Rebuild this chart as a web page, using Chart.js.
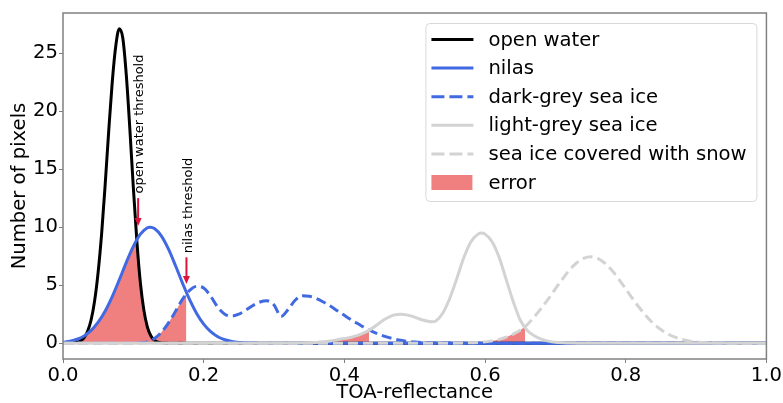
<!DOCTYPE html>
<html>
<head>
<meta charset="utf-8">
<script src="https://cdn.jsdelivr.net/npm/chart.js@4.4.1/dist/chart.umd.min.js"></script>
<style>
  html, body { margin: 0; padding: 0; background: #fff; }
  #wrap { width: 783px; height: 403px; }
</style>
</head>
<body>
<div id="wrap"><canvas id="chart" width="783" height="403"></canvas></div>
<script>
// Data
const xTicks = [0, 0.2, 0.4, 0.6, 0.8, 1.0];
const yTicks = [0, 5, 10, 15, 20, 25];

// open water
const owX = [0, 0.02, 0.025, 0.03, 0.035, 0.04, 0.045, 0.05, 0.055, 0.06, 0.065, 0.07, 0.075, 0.08, 0.085, 0.09, 0.095, 0.1, 0.105, 0.11, 0.115, 0.12, 0.125, 0.13, 0.135, 0.14, 0.15, 1.0];
const owY = [0, 0.09, 0.21, 0.49, 1.03, 2.02, 3.67, 6.15, 9.5, 13.7, 18.3, 22.5, 25.6, 27.1, 26.3, 23.1, 18.5, 13.4, 8.8, 5.2, 2.83, 1.39, 0.62, 0.25, 0.09, 0.03, 0, 0];
// nilas
const nlX = [0, 0.01, 0.02, 0.03, 0.04, 0.05, 0.06, 0.07, 0.08, 0.09, 0.1, 0.11, 0.12, 0.124, 0.13, 0.14, 0.15, 0.16, 0.17, 0.18, 0.19, 0.2, 0.21, 0.22, 0.23, 0.24, 0.25, 0.26, 0.28, 1.0];
const nlY = [0.08, 0.17, 0.34, 0.63, 1.10, 1.81, 2.78, 4.02, 5.46, 6.97, 8.35, 9.40, 9.95, 10.0, 9.89, 9.23, 8.10, 6.67, 5.16, 3.75, 2.56, 1.64, 0.99, 0.56, 0.30, 0.15, 0.07, 0.03, 0, 0];
// dark-grey sea ice
const dgX = [0, 0.1, 0.11, 0.12, 0.13, 0.14, 0.15, 0.16, 0.17, 0.18, 0.19, 0.2, 0.21, 0.22, 0.23, 0.24, 0.25, 0.26, 0.27, 0.28, 0.29, 0.3, 0.31, 0.32, 0.33, 0.34, 0.35, 0.36, 0.37, 0.38, 0.39, 0.4, 0.41, 0.42, 0.43, 0.44, 0.45, 0.46, 0.47, 0.48, 0.49, 0.5, 0.52, 0.55, 0.6, 1.0];
const dgY = [0, 0, 0.03, 0.12, 0.4, 0.95, 1.75, 2.75, 3.8, 4.55, 4.9, 4.75, 4.05, 3.1, 2.5, 2.35, 2.5, 2.85, 3.25, 3.55, 3.65, 3.3, 2.3, 2.9, 3.7, 4.1, 4.05, 3.85, 3.55, 3.2, 2.8, 2.4, 2.0, 1.65, 1.3, 1.0, 0.75, 0.55, 0.38, 0.25, 0.16, 0.1, 0.04, 0.01, 0, 0];
// light-grey sea ice
const lgX = [0, 0.3, 0.34, 0.36, 0.37, 0.38, 0.39, 0.4, 0.41, 0.42, 0.43, 0.44, 0.45, 0.46, 0.47, 0.48, 0.49, 0.5, 0.51, 0.525, 0.53, 0.54, 0.55, 0.56, 0.57, 0.58, 0.59, 0.595, 0.6, 0.61, 0.62, 0.63, 0.64, 0.65, 0.66, 0.67, 0.68, 0.69, 0.7, 0.72, 0.75, 1.0];
const lgY = [0, 0, 0.02, 0.07, 0.12, 0.2, 0.3, 0.4, 0.52, 0.7, 0.95, 1.3, 1.75, 2.15, 2.42, 2.5, 2.42, 2.25, 2.02, 1.85, 1.92, 2.6, 3.9, 5.6, 7.4, 8.75, 9.4, 9.5, 9.4, 8.75, 7.4, 5.5, 3.6, 2.0, 1.1, 0.65, 0.35, 0.18, 0.08, 0.02, 0, 0];
// sea ice covered with snow
const snX = [0, 0.55, 0.57, 0.59, 0.6, 0.61, 0.62, 0.63, 0.64, 0.65, 0.66, 0.67, 0.68, 0.69, 0.7, 0.71, 0.72, 0.73, 0.74, 0.75, 0.76, 0.77, 0.78, 0.79, 0.8, 0.81, 0.82, 0.83, 0.84, 0.85, 0.86, 0.87, 0.88, 0.89, 0.9, 0.92, 0.95, 1.0];
const snY = [0, 0.005, 0.02, 0.066, 0.116, 0.2, 0.33, 0.52, 0.79, 1.12, 1.6, 2.28, 3.01, 3.82, 4.69, 5.53, 6.30, 6.91, 7.30, 7.44, 7.30, 6.91, 6.30, 5.53, 4.69, 3.82, 3.01, 2.28, 1.66, 1.17, 0.79, 0.52, 0.33, 0.2, 0.116, 0.036, 0.005, 0];

// error areas
const e1X = [0.02, 0.025, 0.03, 0.035, 0.04, 0.045, 0.05, 0.055, 0.06, 0.065, 0.07, 0.075, 0.08, 0.085, 0.09, 0.095, 0.1, 0.1048, 0.11, 0.115, 0.12, 0.125, 0.13, 0.135, 0.14, 0.15];
const e1Y = [0, 0.21, 0.49, 0.85, 1.10, 1.43, 1.81, 2.27, 2.78, 3.38, 4.02, 4.73, 5.46, 6.21, 6.97, 7.68, 8.35, 8.85, 5.2, 2.83, 1.39, 0.62, 0.25, 0.09, 0.03, 0];
const e2X = [0.1, 0.11, 0.12, 0.13, 0.14, 0.15, 0.16, 0.17, 0.1754];
const e2Y = [0, 0.03, 0.12, 0.4, 0.95, 1.75, 2.75, 3.8, 4.25];
const e3X = [0.34, 0.36, 0.37, 0.38, 0.39, 0.4, 0.41, 0.42, 0.43, 0.435];
const e3Y = [0.02, 0.07, 0.12, 0.2, 0.3, 0.4, 0.52, 0.7, 0.95, 1.12];
const e4X = [0.55, 0.57, 0.59, 0.6, 0.61, 0.62, 0.63, 0.64, 0.65, 0.657];
const e4Y = [0.005, 0.02, 0.066, 0.116, 0.2, 0.33, 0.52, 0.79, 1.12, 1.45];

// threshold annotations (data coords)
const annText = ['open water threshold', 'nilas threshold'];
const annX = [0.1068, 0.1755];
const annTip = [10.1, 5.1];
const annTail = [12.5, 7.4];
const annTextY = [12.9, 7.75];

const pts = (xs, ys) => xs.map((x, i) => ({ x, y: ys[i] }));

const FONT = '"DejaVu Sans", sans-serif';
const FS = 19.6;
const BLUE = '#4169e1', LGREY = '#d3d3d3', ERR = '#f08080';

function line(label, xs, ys, color, dash, order) {
  return {
    label, data: pts(xs, ys), borderColor: color, borderWidth: 3,
    borderDash: dash, pointRadius: 0, fill: false, order,
    cubicInterpolationMode: 'monotone'
  };
}
function area(label, xs, ys) {
  return {
    label, data: pts(xs, ys), borderWidth: 0, borderColor: ERR,
    backgroundColor: ERR, pointRadius: 0, fill: 'origin', tension: 0, order: 10
  };
}

const datasets = [
  area('error', e1X, e1Y),
  area('error2', e2X, e2Y),
  area('error3', e3X, e3Y),
  area('error4', e4X, e4Y),
  line('open water', owX, owY, '#000000', [], 5),
  line('nilas', nlX, nlY, BLUE, [], 4),
  line('dark-grey sea ice', dgX, dgY, BLUE, [10, 5], 3),
  line('light-grey sea ice', lgX, lgY, LGREY, [], 2),
  line('sea ice covered with snow', snX, snY, LGREY, [10, 5], 1)
];

// legend box at the top right of the plot
const boxLegend = {
  id: 'boxLegend',
  afterDraw(chart) {
    const { ctx, chartArea } = chart;
    const w = 331, h = 178;
    const x0 = chartArea.right - 10 - w, y0 = chartArea.top + 10;
    ctx.save();
    ctx.fillStyle = 'rgba(255,255,255,0.8)';
    ctx.strokeStyle = '#d8d8d8';
    ctx.lineWidth = 1;
    ctx.beginPath();
    ctx.roundRect(x0 + 0.5, y0 + 0.5, w, h, 4);
    ctx.fill(); ctx.stroke();
    ctx.font = FS + 'px ' + FONT;
    ctx.textBaseline = 'middle';
    const items = [4, 5, 6, 7, 8, 0].map(i => chart.data.datasets[i]);
    items.forEach((ds, i) => {
      const y = y0 + 16.5 + i * 28.6;
      if (ds.fill === 'origin') {
        ctx.fillStyle = ERR;
        ctx.fillRect(x0 + 6, y - 7.5, 41, 15);
      } else {
        ctx.strokeStyle = ds.borderColor;
        ctx.lineWidth = 3;
        ctx.setLineDash(ds.borderDash.length ? [13, 5] : []);
        ctx.beginPath();
        ctx.moveTo(x0 + 6, y); ctx.lineTo(x0 + 48, y);
        ctx.stroke();
        ctx.setLineDash([]);
      }
      ctx.fillStyle = '#000';
      ctx.fillText(ds.label, x0 + 63, y + 1);
    });
    ctx.restore();
  }
};

// threshold arrows and rotated labels, plus the frame
const thresholds = {
  id: 'thresholds',
  afterDatasetsDraw(chart) {
    const { ctx, scales: { x, y }, chartArea } = chart;
    ctx.save();
    annText.forEach((t, i) => {
      const px = x.getPixelForValue(annX[i]);
      const tip = y.getPixelForValue(annTip[i]);
      const tail = y.getPixelForValue(annTail[i]);
      ctx.strokeStyle = '#dc143c';
      ctx.fillStyle = '#dc143c';
      ctx.lineWidth = 2;
      ctx.beginPath();
      ctx.moveTo(px, tail); ctx.lineTo(px, tip - 6);
      ctx.stroke();
      ctx.beginPath();
      ctx.moveTo(px - 3.5, tip - 8); ctx.lineTo(px + 3.5, tip - 8); ctx.lineTo(px, tip);
      ctx.closePath(); ctx.fill();
      ctx.save();
      ctx.translate(px + 1.8, y.getPixelForValue(annTextY[i]));
      ctx.rotate(-Math.PI / 2);
      ctx.font = '13px ' + FONT;
      ctx.fillStyle = '#000';
      ctx.textAlign = 'left';
      ctx.textBaseline = 'middle';
      ctx.fillText(t, 0, 0);
      ctx.restore();
    });
    ctx.strokeStyle = '#808080';
    ctx.lineWidth = 1.5;
    ctx.strokeRect(chartArea.left, chartArea.top, chartArea.right - chartArea.left, chartArea.bottom - chartArea.top);
    ctx.restore();
  }
};

const ctx = document.getElementById('chart').getContext('2d');
const chart = new Chart(ctx, {
  type: 'line',
  data: { datasets },
  plugins: [thresholds, boxLegend],
  options: {
    responsive: false,
    animation: false,
    devicePixelRatio: 1,
    layout: { padding: { top: 13, right: 15, left: 0, bottom: 0 } },
    plugins: { legend: { display: false }, tooltip: { enabled: false } },
    scales: {
      x: {
        type: 'linear', min: 0, max: 1,
        afterFit: s => { s.height = 44; },
        afterBuildTicks: s => { s.ticks = xTicks.map(v => ({ value: v })); },
        ticks: { font: { family: FONT, size: FS }, color: '#000', padding: 1, callback: v => v.toFixed(1), maxRotation: 0 },
        grid: { drawOnChartArea: false, tickLength: 4, color: '#808080' },
        border: { display: false },
        title: { display: true, text: 'TOA-reflectance', color: '#000', font: { family: FONT, size: FS, lineHeight: 1 }, padding: { top: 0, bottom: 0 } }
      },
      y: {
        type: 'linear', min: -1.36, max: 28.45,
        afterFit: s => { s.width = 63; },
        afterBuildTicks: s => { s.ticks = yTicks.map(v => ({ value: v })); },
        ticks: { font: { family: FONT, size: FS }, color: '#000', padding: 1 },
        grid: { drawOnChartArea: false, tickLength: 4, color: '#808080' },
        border: { display: false },
        title: { display: true, text: 'Number of pixels', color: '#000', font: { family: FONT, size: FS, lineHeight: 1 }, padding: { top: 10, bottom: 0 } }
      }
    }
  }
});
</script>
</body>
</html>
